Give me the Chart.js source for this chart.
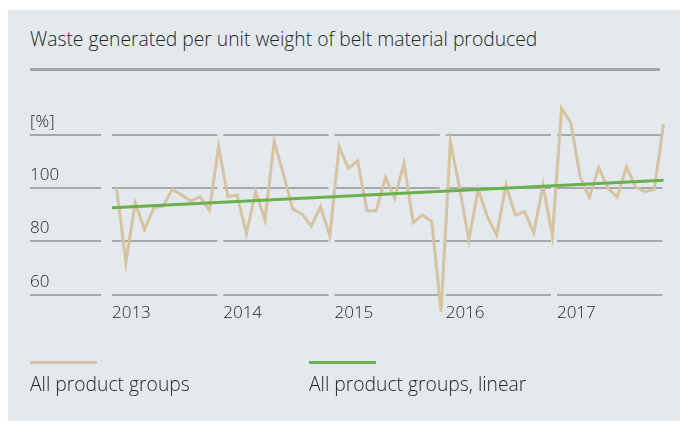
<!DOCTYPE html>
<html>
<head>
<meta charset="utf-8">
<script src="https://cdn.jsdelivr.net/npm/chart.js@4"></script>
<style>
  body { margin: 0; background: #fff; font-family: "Open Sans", sans-serif; color: #262626; }
  #panel { position: absolute; left: 8px; top: 10px; width: 672px; height: 411px; background: #e4e9ed; }
  #title { position: absolute; left: 30px; top: 28px; font-size: 19.3px; line-height: 22px; font-weight: 300; white-space: nowrap; }
  #rule { position: absolute; left: 30px; top: 68px; width: 630px; height: 3px; background: #a4a7aa; }
  #chart { position: absolute; left: 8px; top: 10px; }
  .key { position: absolute; height: 3px; width: 67px; top: 361px; }
  .keytext { position: absolute; top: 373px; font-size: 19.3px; line-height: 22px; font-weight: 300; white-space: nowrap; }
</style>
</head>
<body>
<div id="panel"></div>
<div id="title">Waste generated per unit weight of belt material produced</div>
<div id="rule"></div>
<canvas id="chart" width="672" height="411"></canvas>
<div class="key" style="left:30px; background:#d6c3a1;"></div>
<div class="keytext" style="left:30px;">All product groups</div>
<div class="key" style="left:309px; background:#6ab04c;"></div>
<div class="keytext" style="left:309px;">All product groups, linear</div>
<script>
// ================= data (monthly, Jan 2013 - Dec 2017)
var years = ["2013", "2014", "2015", "2016", "2017"];
var yTicks = [60, 80, 100, 120];
var waste = [
  100, 72.1, 94.5, 84.5, 92.4, 93.2, 99.5, 97.4, 95.1, 96.7, 91.7, 115.5,
  96.7, 97.4, 82.8, 98.6, 88, 117.4, 105, 92.1, 90.3, 85.7, 93, 82,
  115.5, 107.4, 110.2, 91.5, 91.5, 104, 96.1, 109.3, 87, 89.9, 87.4, 53.6,
  117.4, 99.9, 80.5, 99.5, 89.2, 82.4, 101.1, 89.9, 91.1, 83.2, 101.1, 82,
  129.9, 124.5, 104.2, 96.5, 107.8, 99.9, 96.7, 108, 100.3, 98.6, 99.5, 124,
];
var trendX = [-0.5, 59];
var trendY = [92.6, 102.9];

var textColor = "#262626";
var tickFont = { family: "Open Sans", size: 17, weight: 300 };

// gridlines broken into one piece per year, plus a piece under the y labels
var segmentedGrid = {
  id: "segmentedGrid",
  beforeDatasetsDraw: function (chart) {
    var ctx = chart.ctx;
    var xs = chart.scales.x;
    var ys = chart.scales.y;
    ctx.save();
    ctx.strokeStyle = "#a6a9ac";
    ctx.lineWidth = 2;
    yTicks.forEach(function (t) {
      var py = Math.round(ys.getPixelForValue(t));
      ctx.beginPath();
      ctx.moveTo(ys.left, py);
      ctx.lineTo(chart.chartArea.left - 11, py);
      years.forEach(function (yr, i) {
        ctx.moveTo(xs.getPixelForValue(i * 12 - 0.5), py);
        ctx.lineTo(xs.getPixelForValue(i * 12 + 11.5) - 6, py);
      });
      ctx.stroke();
    });
    ctx.restore();
  },
};

var chWaste = document.getElementById("chart").getContext("2d");

var myChart = new Chart(chWaste, {
  type: "line",
  plugins: [segmentedGrid],
  data: {
    datasets: [
      {
        label: "All product groups, linear",
        data: trendX.map(function (x, i) { return { x: x, y: trendY[i] }; }),
        borderColor: "#6ab04c",
        borderWidth: 3,
        pointRadius: 0,
        order: 0,
      },
      {
        label: "All product groups",
        data: waste.map(function (v, i) { return { x: i, y: v }; }),
        borderColor: "#d6c3a1",
        borderWidth: 3,
        pointRadius: 0,
        tension: 0,
        order: 1,
      },
    ],
  },
  options: {
    responsive: false,
    animation: false,
    devicePixelRatio: 1,
    clip: false,
    layout: { padding: { left: 22, right: 11.8, top: 124.7, bottom: 96.3 } },
    plugins: { legend: { display: false }, tooltip: { enabled: false } },
    scales: {
      x: {
        type: "linear",
        min: -0.5,
        max: 59.5,
        grid: { display: false },
        border: { display: false },
        afterBuildTicks: function (s) {
          s.ticks = years.map(function (y, i) { return { value: i * 12 - 0.5 }; });
        },
        afterFit: function (s) { s.height = 30; },
        ticks: {
          align: "start",
          padding: 0,
          maxRotation: 0,
          autoSkip: false,
          color: textColor,
          font: tickFont,
          callback: function (v) { return years[Math.round((v + 0.5) / 12)]; },
        },
      },
      y: {
        min: 60,
        max: 120,
        grid: { display: false },
        border: { display: false },
        afterBuildTicks: function (s) {
          s.ticks = yTicks.map(function (v) { return { value: v }; });
        },
        afterFit: function (s) { s.width = 82; },
        ticks: {
          crossAlign: "far",
          labelOffset: -13,
          color: textColor,
          font: tickFont,
          callback: function (v) { return v === 120 ? "[%]" : v; },
        },
      },
    },
  },
});
</script>
</body>
</html>
